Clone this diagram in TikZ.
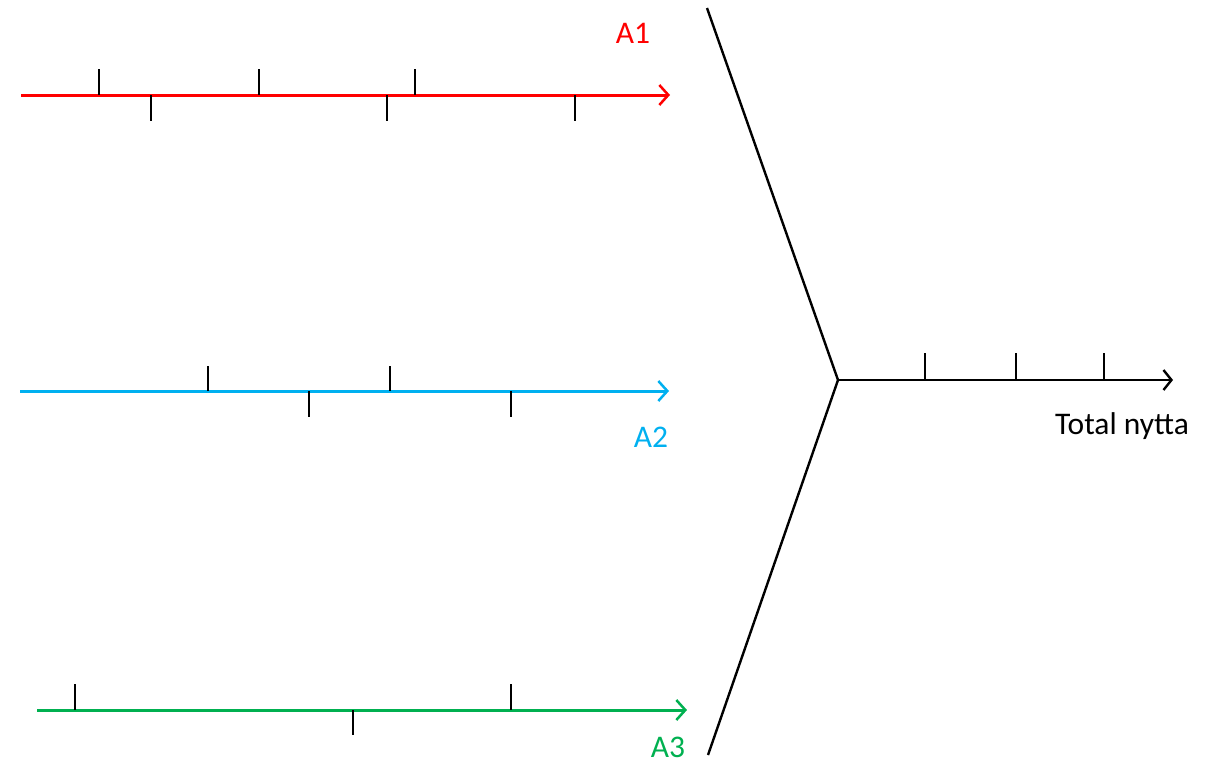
\documentclass[tikz,border=0pt]{standalone}
\usepackage{fontspec}
\setmainfont{Carlito}
\usetikzlibrary{arrows.meta}
\definecolor{ared}{RGB}{255,0,0}
\definecolor{ablue}{RGB}{0,176,240}
\definecolor{agreen}{RGB}{0,176,80}
\tikzset{
  axisline/.style={line width=3pt,-{Straight Barb[length=9pt,width=20pt,line width=2.5pt]}},
  blackaxis/.style={line width=2.4pt,-{Straight Barb[length=8pt,width=20pt,line width=2.4pt]}},
  tickmark/.style={line width=1.6pt,black},
  stem/.style={line width=2.4pt,black},
  lab/.style={font=\fontsize{31.5}{35}\selectfont,inner sep=0pt}
}
\begin{document}
\begin{tikzpicture}[x=1pt,y=-1pt]
\useasboundingbox (0,0) rectangle (1217,763);
% coordinates
\coordinate (r0) at (21,95);   \coordinate (r1) at (670,95);
\coordinate (b0) at (20,391);  \coordinate (b1) at (669,391);
\coordinate (g0) at (37,710);  \coordinate (g1) at (687,710);
\coordinate (top) at (707,8);
\coordinate (hub) at (838,380);
\coordinate (bot) at (708,755);
\coordinate (tn) at (1173,380);
% red axis
\draw[axisline,ared] (r0) -- (r1);
\foreach \x in {99,259,415} \draw[tickmark] (\x,69) -- (\x,95);
\foreach \x in {151,387,575} \draw[tickmark] (\x,95) -- (\x,121);
% blue axis
\draw[axisline,ablue] (b0) -- (b1);
\foreach \x in {208,390} \draw[tickmark] (\x,366) -- (\x,391);
\foreach \x in {309,511} \draw[tickmark] (\x,391) -- (\x,417);
% green axis
\draw[axisline,agreen] (g0) -- (g1);
\foreach \x in {75,511} \draw[tickmark] (\x,684) -- (\x,710);
\draw[tickmark] (353,710) -- (353,735);
% black structure
\draw[stem,line join=miter] (top) -- (hub) -- (bot);
\draw[blackaxis] (hub) -- (tn);
\foreach \x in {925,1016,1104} \draw[tickmark] (\x,353) -- (\x,380);
% labels
\node[lab,text=ared] (A1) at (633,33) {A1};
\node[lab,text=ablue] (A2) at (651,437) {A2};
\node[lab,text=agreen] (A3) at (668,747) {A3};
\node[lab] (TN) at (1122,426) {Total nytta};
\end{tikzpicture}
\end{document}
